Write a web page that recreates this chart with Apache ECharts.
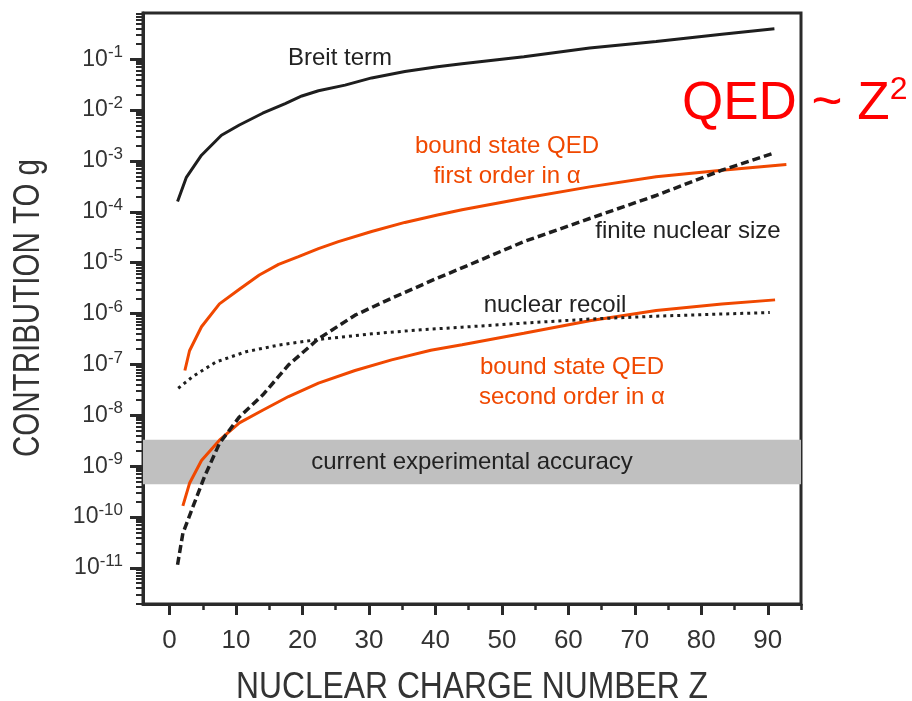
<!DOCTYPE html>
<html><head><meta charset="utf-8">
<script src="https://cdn.jsdelivr.net/npm/echarts@6/dist/echarts.min.js"></script>
<style>html,body{margin:0;padding:0;background:#fff}#c{width:912px;height:701px}</style>
</head><body><div id="c"></div>
<script>
// ---- data ----
const xTickValues = [0, 10, 20, 30, 40, 50, 60, 70, 80, 90];
const xMinorTicks = [5, 15, 25, 35, 45, 55, 65, 75, 85, 95];
const yDecadeExps = [-11, -10, -9, -8, -7, -6, -5, -4, -3, -2, -1];
const yMinorMultipliers = [2, 3, 4, 5, 6, 7, 8, 9];
const yMinExp = -11.71, yMaxExp = -0.09;
const xMin = -4, xMax = 95;
const xTitle = 'NUCLEAR CHARGE NUMBER Z';
const yTitle = 'CONTRIBUTION TO g';

const breitZ   = [1.2, 2.5, 4.8, 7.8, 10.5, 14, 17.4, 19.9, 22.4, 26.4, 30.4, 35.4, 40.3, 44, 53.3, 63.2, 73.2, 83.1, 91];
const breitVal = [1.6e-4, 4.7e-4, 1.3e-3, 3.2e-3, 5.1e-3, 8.7e-3, 1.35e-2, 1.9e-2, 2.4e-2, 3.1e-2, 4.3e-2, 5.75e-2, 7.1e-2, 8.2e-2, 0.112, 0.166, 0.224, 0.31, 0.40];

const qed1Z   = [2.3, 3.0, 4.8, 7.5, 10.5, 13.5, 16.4, 19.4, 22.4, 25.4, 30.4, 35.4, 40.3, 44, 53.3, 63.2, 73.2, 83.1, 92.8];
const qed1Val = [7.6e-8, 1.86e-7, 5.5e-7, 1.55e-6, 3.0e-6, 5.75e-6, 9.3e-6, 1.32e-5, 1.9e-5, 2.6e-5, 4.1e-5, 6.2e-5, 8.7e-5, 1.1e-4, 1.86e-4, 3.1e-4, 4.9e-4, 6.6e-4, 8.5e-4];

const qed2Z   = [2.0, 3.0, 4.8, 7.5, 10.5, 14, 17.9, 22.4, 27.9, 33.4, 39.3, 44, 53.3, 63.2, 73.2, 83.1, 91.1];
const qed2Val = [1.66e-10, 4.6e-10, 1.29e-9, 3.24e-9, 7.1e-9, 1.26e-8, 2.34e-8, 4.3e-8, 7.6e-8, 1.23e-7, 1.9e-7, 2.45e-7, 4.1e-7, 7.2e-7, 1.15e-6, 1.55e-6, 1.86e-6];

const sizeZ   = [1.2, 2.0, 3.5, 5.25, 7.5, 10.5, 14, 17.9, 22.4, 27.9, 33.4, 40, 45, 53.3, 63.2, 73.2, 83.1, 90.8];
const sizeVal = [1.15e-11, 4.8e-11, 1.58e-10, 6.2e-10, 2.8e-9, 9.3e-9, 2.5e-8, 9.8e-8, 3.2e-7, 9.3e-7, 2.0e-6, 4.8e-6, 9.0e-6, 2.6e-5, 7.4e-5, 2.1e-4, 6.6e-4, 1.41e-3];

const recoilZ   = [1.3, 3.5, 7, 11.5, 16.4, 22.4, 30.4, 37.8, 44, 53.3, 63.2, 73.2, 83.1, 90.3];
const recoilVal = [3.4e-8, 5.8e-8, 1.12e-7, 1.78e-7, 2.4e-7, 3.1e-7, 4.0e-7, 4.8e-7, 5.4e-7, 6.5e-7, 7.8e-7, 8.9e-7, 9.8e-7, 1.05e-6];

const accuracyBand = [4.4e-10, 3.3e-9];

// ---- build ----
const zip = (a, b) => a.map((v, i) => [v, b[i]]);
const yDecades = yDecadeExps.map(e => Math.pow(10, e));
const yMinor = [];
for (let e = -12; e <= -1; e++) yMinorMultipliers.forEach(m => {
  const v = m * Math.pow(10, e);
  const l = Math.log10(v);
  if (l > yMinExp && l < yMaxExp) yMinor.push(v);
});
const SANS = "'Liberation Sans', Arial, Helvetica, sans-serif";
const AX = '#2a2a2a';
const ORANGE = '#f04800';
const BLACK = '#1e1e1e';
const LBL = '#333';

const chart = echarts.init(document.getElementById('c'), null, {renderer: 'canvas'});
const option = {
  animation: false,
  backgroundColor: '#fff',
  grid: {left: 143, right: 111, top: 13, bottom: 97, outerBoundsMode: 'none', containLabel: false,
         show: true, borderColor: AX, borderWidth: 3, backgroundColor: 'transparent'},
  xAxis: [{
    type: 'value', min: xMin, max: xMax, position: 'bottom',
    axisLine: {show: true, onZero: false, lineStyle: {color: AX, width: 3}},
    axisTick: {show: true, customValues: xTickValues, length: 11, lineStyle: {color: AX, width: 3}},
    axisLabel: {customValues: xTickValues, fontSize: 26, fontFamily: SANS, color: LBL, margin: 24},
    splitLine: {show: false}
  }, {
    type: 'value', min: xMin, max: xMax, position: 'bottom',
    axisLine: {show: false, onZero: false},
    axisTick: {show: true, customValues: xMinorTicks, length: 6, lineStyle: {color: AX, width: 2.5}},
    axisLabel: {show: false}, splitLine: {show: false}
  }],
  yAxis: [{
    type: 'log', logBase: 10, min: Math.pow(10, yMinExp), max: Math.pow(10, yMaxExp), position: 'left',
    axisLine: {show: true, onZero: false, lineStyle: {color: AX, width: 3}},
    axisTick: {show: true, customValues: yDecades, length: 13, lineStyle: {color: AX, width: 3}},
    axisLabel: {
      customValues: yDecades, margin: 20,
      formatter: v => '{b|10}{s|' + Math.round(Math.log10(v)) + '}',
      rich: {
        b: {fontSize: 23, fontFamily: SANS, color: LBL, lineHeight: 30},
        s: {fontSize: 17, fontFamily: SANS, color: LBL, verticalAlign: 'top', lineHeight: 17}
      }
    },
    splitLine: {show: false}
  }, {
    type: 'log', logBase: 10, min: Math.pow(10, yMinExp), max: Math.pow(10, yMaxExp), position: 'left',
    axisLine: {show: false, onZero: false},
    axisTick: {show: true, customValues: yMinor, length: 7, lineStyle: {color: AX, width: 2}},
    axisLabel: {show: false}, splitLine: {show: false}
  }],
  series: [
    {
      type: 'line', name: 'band', data: [], symbol: 'none', silent: true,
      markArea: {
        silent: true,
        itemStyle: {color: '#c0c0c0'},
        label: {show: true, position: 'inside', formatter: 'current experimental accuracy', fontSize: 24, fontFamily: SANS, color: '#222'},
        data: [[{xAxis: xMin, yAxis: accuracyBand[0]}, {xAxis: xMax, yAxis: accuracyBand[1]}]]
      }
    },
    {type: 'line', name: 'Breit term', data: zip(breitZ, breitVal), symbol: 'none', lineStyle: {color: BLACK, width: 3}, z: 3},
    {type: 'line', name: 'QED first order', data: zip(qed1Z, qed1Val), symbol: 'none', lineStyle: {color: ORANGE, width: 3}, z: 3},
    {type: 'line', name: 'QED second order', data: zip(qed2Z, qed2Val), symbol: 'none', lineStyle: {color: ORANGE, width: 3}, z: 3},
    {type: 'line', name: 'finite nuclear size', data: zip(sizeZ, sizeVal), symbol: 'none', lineStyle: {color: BLACK, width: 3.5, type: [8, 4]}, z: 4},
    {type: 'line', name: 'nuclear recoil', data: zip(recoilZ, recoilVal), symbol: 'none', lineStyle: {color: BLACK, width: 3, type: [3, 4]}, z: 4}
  ],
  graphic: [
    {type: 'text', x: 472, y: 688, scaleX: 0.86, style: {text: xTitle, fontSize: 37, fontFamily: SANS, fill: LBL, align: 'center', verticalAlign: 'middle'}},
    {type: 'text', x: 29, y: 308, rotation: Math.PI / 2, scaleX: 0.82, style: {text: yTitle, fontSize: 36, fontFamily: SANS, fill: LBL, align: 'center', verticalAlign: 'middle'}},
    {type: 'text', x: 340, y: 58, style: {text: 'Breit term', fontSize: 24, fontFamily: SANS, fill: '#222', align: 'center', verticalAlign: 'middle'}},
    {type: 'text', x: 507, y: 161, style: {text: 'bound state QED\nfirst order in α', fontSize: 24, lineHeight: 30, fontFamily: SANS, fill: ORANGE, align: 'center', verticalAlign: 'middle'}},
    {type: 'text', x: 688, y: 231, style: {text: 'finite nuclear size', fontSize: 24, fontFamily: SANS, fill: '#222', align: 'center', verticalAlign: 'middle'}},
    {type: 'text', x: 555, y: 305, style: {text: 'nuclear recoil', fontSize: 24, fontFamily: SANS, fill: '#222', align: 'center', verticalAlign: 'middle'}},
    {type: 'text', x: 572, y: 382, style: {text: 'bound state QED\nsecond order in α', fontSize: 24, lineHeight: 30, fontFamily: SANS, fill: ORANGE, align: 'center', verticalAlign: 'middle'}},
    {type: 'text', x: 682, y: 74, z: 100, style: {text: '{a|QED ~ Z}{s|2}', rich: {a: {fontSize: 53, fontFamily: SANS, fill: '#ff0000', lineHeight: 60}, s: {fontSize: 32, fontFamily: SANS, fill: '#ff0000', verticalAlign: 'top', lineHeight: 32}}}}
  ]
};
chart.setOption(option);
</script>
</body></html>
